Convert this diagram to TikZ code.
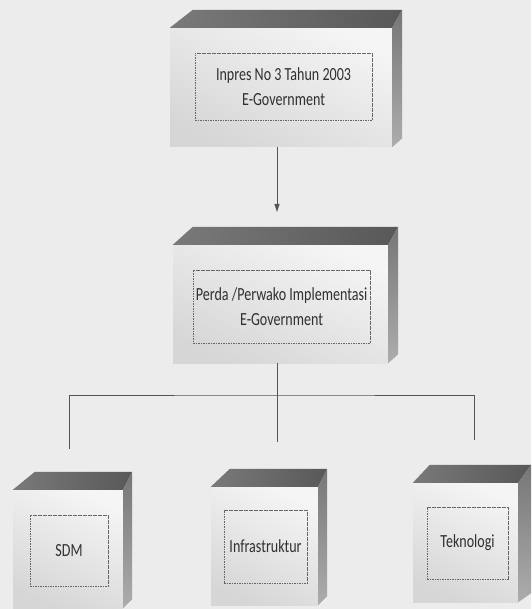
\documentclass[tikz,border=0pt]{standalone}
\usepackage{fontspec}
\setmainfont{Carlito}[FakeStretch=0.76]
\usepackage{tikz}
\usetikzlibrary{arrows.meta,calc,positioning}
\definecolor{kertas}{RGB}{236,236,236}
\definecolor{atap}{RGB}{88,88,88}
\definecolor{sisi}{RGB}{118,118,118}
\definecolor{tinta}{RGB}{48,48,48}
\definecolor{garisabu}{RGB}{85,85,85}
\newcommand{\balok}[3]{%
\shade[left color=atap!80!white, right color=atap] (#1.north west) -- ($(#1.north west)+(#2,-18)$) -- ($(#1.north east)+(#3,-18)$) -- (#1.north east) -- cycle;
\shade[top color=sisi, bottom color=sisi!60!white] (#1.north east) -- ($(#1.north east)+(#3,-18)$) -- ($(#1.south east)+(#3,-9)$) -- (#1.south east) -- cycle;}

\begin{document}
\begin{tikzpicture}[x=1pt,y=-1pt,
  muka/.style={inner sep=0pt, top color=black!4, bottom color=black!16, shading angle=-25},
  bingkai/.style={draw=black!60, dash pattern=on 1.6pt off 0.9pt, line width=0.5pt, inner sep=0pt,
    anchor=north west, align=center, text=tinta, font=\fontsize{18.5}{25}\selectfont},
  garis/.style={draw=garisabu, line width=1pt},
  panah/.style={garis, -{Triangle[length=8pt,width=5pt]}}]
\fill[kertas] (0,0) rectangle (531,609);
\useasboundingbox (0,0) rectangle (531,609);

\node[muka, minimum width=222pt, minimum height=119pt] (inpres) at (281,87.5) {};
\balok{inpres}{23}{10}
\node[bingkai, minimum width=177pt, minimum height=67pt] (inpresTeks) at ($(inpres.north west)+(25,25)$) {Inpres No 3 Tahun 2003\\E-Government};

\node[muka, minimum width=215pt, minimum height=118pt] (perda) at (280.5,304) {};
\balok{perda}{20}{10}
\node[bingkai, minimum width=177pt, minimum height=73pt] (perdaTeks) at ($(perda.north west)+(20,25)$) {Perda /Perwako Implementasi\\E-Government};

\node[muka, minimum width=110pt, minimum height=118pt] (sdm) at (68,549) {};
\balok{sdm}{22}{9}
\node[bingkai, minimum width=78pt, minimum height=71pt] (sdmTeks) at ($(sdm.north west)+(17,25)$) {SDM};

\node[muka, minimum width=107pt, minimum height=118pt] (infra) at (264.5,546) {};
\balok{infra}{19}{9}
\node[bingkai, minimum width=83pt, minimum height=73pt] (infraTeks) at ($(infra.north west)+(13,23)$) {Infrastruktur};

\node[muka, minimum width=105pt, minimum height=119pt] (tekno) at (465.5,542.5) {};
\balok{tekno}{17}{13}
\node[bingkai, minimum width=81pt, minimum height=72pt] (teknoTeks) at ($(tekno.north west)+(14,24)$) {Teknologi};

\coordinate (ujungPanah) at (277,212);
\coordinate (cabang) at (277,395);
\coordinate (ujungSdm) at (69,449);
\coordinate (ujungInfra) at (277,442);
\coordinate (ujungTekno) at (474,440);

\draw[panah] (inpres.south -| ujungPanah) -- (ujungPanah);
\draw[garis] (perda.south -| cabang) -- (cabang);
\draw[garis] (ujungSdm) |- (cabang) -| (ujungTekno);
\draw[garis] (cabang) -- (ujungInfra);
\end{tikzpicture}
\end{document}
